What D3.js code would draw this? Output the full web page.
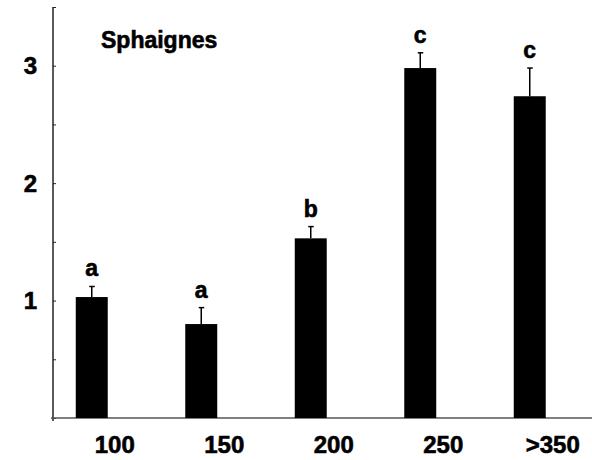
<!DOCTYPE html>
<html><head><meta charset="utf-8">
<script src="https://cdn.jsdelivr.net/npm/d3@7"></script>
<style>body{margin:0;background:#fff}svg{display:block}text{font-family:"Liberation Sans",Arial,sans-serif;font-weight:bold;fill:#000;stroke:#000;stroke-width:0.6px}</style>
</head><body>
<script>
const categories = ["100", "150", "200", "250", ">350"];
const values = [1.03, 0.80, 1.53, 2.98, 2.74];
const errors = [0.09, 0.14, 0.10, 0.13, 0.24];
const letters = ["a", "a", "b", "c", "c"];
const yTicks = [0, 0.5, 1, 1.5, 2, 2.5, 3, 3.5];
const yLabels = [1, 2, 3];
const title = "Sphaignes";

const W = 592, H = 460;
const svg = d3.select("body").append("svg").attr("width", W).attr("height", H);

const x = d3.scaleBand().domain(categories).range([37, 584.5]).paddingInner(0.708).paddingOuter(0.354);
const y = d3.scaleLinear().domain([0, 3.5]).range([418, 7]);
const axisX = 53;

// y axis
const yAxis = d3.axisRight(y).tickValues(yTicks).tickSize(3).tickFormat("");
const gy = svg.append("g").attr("transform", `translate(${axisX},0)`).call(yAxis);
gy.select(".domain").attr("d", `M0,${y(3.5)}V${y(0)+3}`).attr("stroke", "#222").attr("stroke-width", 1.5);
gy.selectAll(".tick line").attr("stroke", "#222").attr("stroke-width", 1);

svg.selectAll(".ylab").data(yLabels).enter().append("text")
  .attr("x", 37).attr("y", d => y(d)).attr("dy", "0.36em")
  .attr("text-anchor", "end").attr("font-size", 24).text(d => d);

// x axis line
svg.append("line").attr("x1", axisX - 2).attr("x2", W).attr("y1", y(0)).attr("y2", y(0))
  .attr("stroke", "#555").attr("stroke-width", 1.5);

// bars
svg.selectAll(".bar").data(values).enter().append("rect")
  .attr("x", (d, i) => x(categories[i])).attr("width", x.bandwidth())
  .attr("y", d => y(d)).attr("height", d => y(0) - y(d)).attr("fill", "#000");

// error bars
const cx = i => x(categories[i]) + x.bandwidth() / 2;
svg.selectAll(".err").data(values).enter().append("line")
  .attr("x1", (d, i) => cx(i)).attr("x2", (d, i) => cx(i))
  .attr("y1", d => y(d)).attr("y2", (d, i) => y(d + errors[i]))
  .attr("stroke", "#000").attr("stroke-width", 1.5);
svg.selectAll(".cap").data(values).enter().append("line")
  .attr("x1", (d, i) => cx(i) - 2.5).attr("x2", (d, i) => cx(i) + 3)
  .attr("y1", (d, i) => y(d + errors[i])).attr("y2", (d, i) => y(d + errors[i]))
  .attr("stroke", "#000").attr("stroke-width", 1.5);

// letters
svg.selectAll(".let").data(letters).enter().append("text")
  .attr("x", (d, i) => cx(i)).attr("y", (d, i) => y(values[i] + errors[i]) - 10)
  .attr("text-anchor", "middle").attr("font-size", 23).text(d => d);

// x labels
svg.selectAll(".xlab").data(categories).enter().append("text")
  .attr("x", d => x(d) + x.bandwidth() / 2 + 23).attr("y", 453)
  .attr("text-anchor", "middle").attr("font-size", 24).text(d => d);

// title
svg.append("text").attr("x", 101).attr("y", 48).attr("font-size", 23).text(title);
</script>
</body></html>
